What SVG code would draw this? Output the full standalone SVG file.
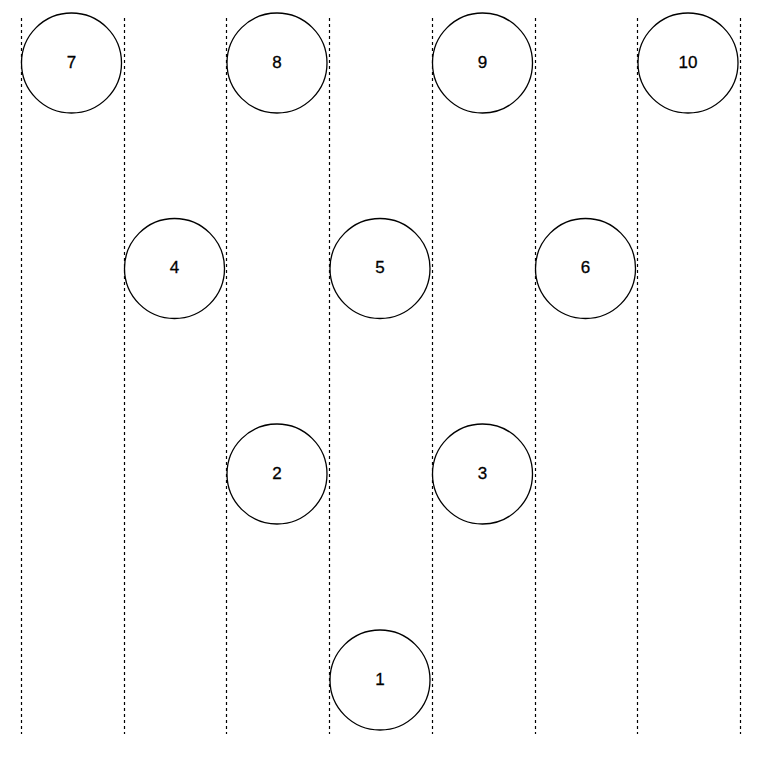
<svg xmlns="http://www.w3.org/2000/svg" width="774" height="760" viewBox="0 0 774 760">
<style>
.bg{fill:#ffffff}
.lane{stroke:#000000;stroke-width:1.2;stroke-dasharray:3 3;fill:none}
.node circle{fill:#ffffff;stroke:#000000;stroke-width:1.3}
.node text{font-family:"Liberation Sans",Arial,sans-serif;font-size:17px;fill:#000000;text-anchor:middle;dominant-baseline:central;stroke:#000000;stroke-width:0.3}
</style>
<rect class="bg" x="0" y="0" width="774" height="760"/>
<g id="guides">
<line class="lane" x1="21.5" y1="18" x2="21.5" y2="734"/>
<line class="lane" x1="124.5" y1="18" x2="124.5" y2="734"/>
<line class="lane" x1="226.5" y1="18" x2="226.5" y2="734"/>
<line class="lane" x1="329.5" y1="18" x2="329.5" y2="734"/>
<line class="lane" x1="432.5" y1="18" x2="432.5" y2="734"/>
<line class="lane" x1="535.5" y1="18" x2="535.5" y2="734"/>
<line class="lane" x1="637.5" y1="18" x2="637.5" y2="734"/>
<line class="lane" x1="740.5" y1="18" x2="740.5" y2="734"/>
</g>
<g id="connectors"></g>
<g id="n7" class="node"><circle cx="71.5" cy="63" r="50"/><text x="71.5" y="62">7</text></g>
<g id="n8" class="node"><circle cx="277" cy="63" r="50"/><text x="277" y="62">8</text></g>
<g id="n9" class="node"><circle cx="482.5" cy="63" r="50"/><text x="482.5" y="62">9</text></g>
<g id="n10" class="node"><circle cx="688" cy="63" r="50"/><text x="688" y="62">10</text></g>
<g id="n4" class="node"><circle cx="174.5" cy="268.5" r="50"/><text x="174.5" y="267.5">4</text></g>
<g id="n5" class="node"><circle cx="380" cy="268.5" r="50"/><text x="380" y="267.5">5</text></g>
<g id="n6" class="node"><circle cx="585.5" cy="268.5" r="50"/><text x="585.5" y="267.5">6</text></g>
<g id="n2" class="node"><circle cx="277" cy="474" r="50"/><text x="277" y="473">2</text></g>
<g id="n3" class="node"><circle cx="482.5" cy="474" r="50"/><text x="482.5" y="473">3</text></g>
<g id="n1" class="node"><circle cx="380" cy="680" r="50"/><text x="380" y="679">1</text></g>
</svg>
